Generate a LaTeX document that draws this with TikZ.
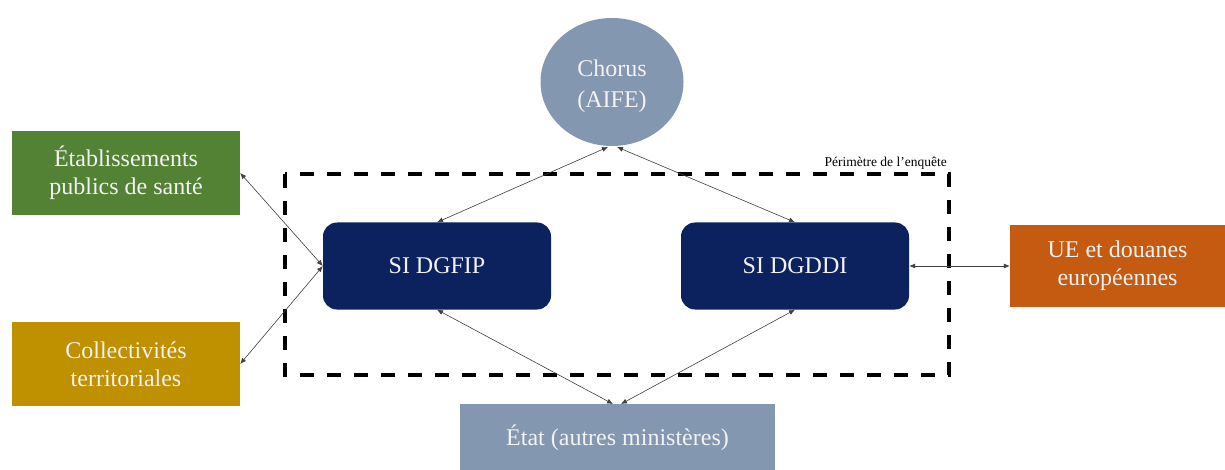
\documentclass[tikz,border=0pt]{standalone}
\usepackage{fontspec}
\setmainfont{Liberation Serif}
\usetikzlibrary{arrows.meta,shapes.geometric}
\definecolor{cgreen}{HTML}{548235}
\definecolor{cgold}{HTML}{BF9000}
\definecolor{cnavy}{HTML}{0B225E}
\definecolor{corange}{HTML}{C55A11}
\definecolor{cgrey}{HTML}{8497B0}
\definecolor{ctext}{HTML}{F2F2F2}
\begin{document}
\begin{tikzpicture}[x=1pt,y=-1pt,
  boxst/.style={draw=none, minimum width=#1, inner sep=0pt, align=center, text=ctext, font=\fontsize{24}{28}\selectfont},
  link/.style={{Latex[length=6pt,width=5pt]}-{Latex[length=6pt,width=5pt]}, line width=0.6pt, draw=black!75}
]
\useasboundingbox (0,0) rectangle (1225,470);
\fill[white] (0,0) rectangle (1225,470);
% dashed perimeter
\draw[line width=3.6pt, dash pattern=on 14pt off 13pt] (285,174) rectangle (949,375);
\node[anchor=base east, inner sep=0pt, font=\fontsize{13.5}{16}\selectfont] (per) at (947,167) {Périmètre de l’enquête};
% nodes
\node[ellipse, fill=cgrey, minimum width=143pt, minimum height=128pt, inner sep=0pt] (chorus) at (612,82) {};
\node[align=center, text=ctext, font=\fontsize{24}{31}\selectfont, inner sep=0pt] (chorustxt) at (612,86) {Chorus\\(AIFE)};
\node[boxst=228pt, fill=cgreen, minimum height=84pt] (etab) at (126,173) {Établissements\\publics de santé};
\node[boxst=228pt, fill=cgold, minimum height=84pt] (coll) at (126,364) {Collectivités\\territoriales};
\node[boxst=228pt, fill=cnavy, rounded corners=14pt, minimum height=87pt] (dgfip) at (437,266) {SI DGFIP};
\node[boxst=228pt, fill=cnavy, rounded corners=14pt, minimum height=87pt] (dgddi) at (795,266) {SI DGDDI};
\node[boxst=215pt, fill=corange, minimum height=82pt] (ue) at (1117.5,266) {UE et douanes\\européennes};
\node[boxst=315pt, fill=cgrey, minimum height=80pt] (etat) at (617.5,444) {};
\node[text=ctext, font=\fontsize{24}{28}\selectfont, inner sep=0pt] (etattxt) at (617.5,438) {État (autres ministères)};
% anchors for arrows
\coordinate (cl) at (608,147);
\coordinate (cr) at (617,147);
\coordinate (el) at (613,404);
\coordinate (er) at (621,404);
\draw[link] (cl) -- (dgfip.north);
\draw[link] (cr) -- (dgddi.north);
\draw[link] (etab.east) -- (dgfip.west);
\draw[link] (coll.east) -- (dgfip.west);
\draw[link] (dgddi.east) -- (ue.west);
\draw[link] (dgfip.south) -- (el);
\draw[link] (dgddi.south) -- (er);
\end{tikzpicture}
\end{document}
